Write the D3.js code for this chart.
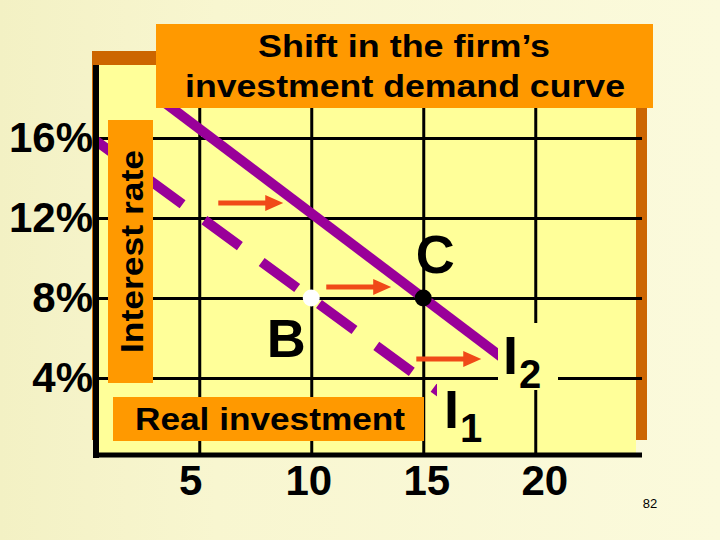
<!DOCTYPE html>
<html>
<head>
<meta charset="utf-8">
<script src="https://cdn.jsdelivr.net/npm/d3@7"></script>
<style>
  html, body { margin: 0; padding: 0; background: #f8f6d0; }
  svg { display: block; }
</style>
</head>
<body>
<svg id="chart" width="720" height="540"></svg>
<script>
// chart values
const rateTicks = [4, 8, 12, 16]
const investTicks = [5, 10, 15, 20]
// I1 (old curve, dashed) and I2 (shifted curve, solid): real investment q vs interest rate r
const curveI1 = [{ q: 0.4, r: 15.85 }, { q: 17, r: 2.25 }]
const curveI2 = [{ q: 3.3, r: 17.9 }, { q: 19.5, r: 4.2 }]
// the three shift arrows
const shifts = [
	{ r: 12.75, from: 5.85, to: 8.75 },
	{ r: 8.55, from: 10.67, to: 13.57 },
	{ r: 4.95, from: 14.69, to: 17.59 }
]
const points = [
	{ name: 'B', q: 10, r: 8 },
	{ name: 'C', q: 15, r: 8 }
]

const FONT = 'Arial, "Liberation Sans", sans-serif'
const PURPLE = '#990099'
const ORANGE = '#ff9900'
const PLOT_BG = '#ffff99'

const svg = d3.select('#chart')

const x = d3.scaleLinear().domain([0, 20]).range([87.25, 535.25])
const y = d3.scaleLinear().domain([0, 16]).range([458, 138])

// frame of the plot
const plot = { left: 96, top: 65, right: 637, bottom: 455 }

// page background
const grad = svg.append('defs').append('linearGradient')
	.attr('id', 'bg').attr('x1', 0).attr('x2', 1).attr('y1', 0).attr('y2', 0)
grad.append('stop').attr('offset', 0).attr('stop-color', '#f3f1c4')
grad.append('stop').attr('offset', 0.3).attr('stop-color', '#f8f6d0')
grad.append('stop').attr('offset', 1).attr('stop-color', '#fbfadc')
svg.append('rect').attr('width', 720).attr('height', 540).attr('fill', 'url(#bg)')

// brown shadow behind the plot
svg.append('rect')
	.attr('x', plot.left - 4).attr('y', plot.top - 14)
	.attr('width', plot.right + 10 - (plot.left - 4)).attr('height', 440 - (plot.top - 14))
	.attr('fill', '#cc6600')

svg.append('rect')
	.attr('x', plot.left + 3).attr('y', plot.top)
	.attr('width', plot.right - plot.left - 4).attr('height', plot.bottom - plot.top - 2)
	.attr('fill', PLOT_BG)

// grid + tick labels
const gx = svg.append('g')
	.attr('transform', `translate(0,${plot.bottom})`)
	.call(d3.axisBottom(x).tickValues(investTicks).tickSize(-(plot.bottom - plot.top)).tickPadding(10))
const gy = svg.append('g')
	.attr('transform', `translate(${plot.left},0)`)
	.call(d3.axisLeft(y).tickValues(rateTicks).tickFormat(d => d + '%')
		.tickSize(-(plot.right + 5 - plot.left)).tickPadding(3))

for (const g of [gx, gy]) {
	g.select('.domain').remove()
	g.selectAll('.tick line').attr('stroke', '#000').attr('stroke-width', 3)
	g.selectAll('.tick text')
		.attr('fill', '#000')
		.style('font-family', FONT)
		.style('font-size', '42px')
		.style('font-weight', 'bold')
}
// labels under the x axis sit a bit wider apart than the ticks
gx.selectAll('.tick text').attr('dx', d => (d - 12.5) * 1.2)

const line = d3.line().x(d => x(d.q)).y(d => y(d.r))

// old curve I1, dashed
svg.append('path')
	.datum(curveI1)
	.attr('d', line)
	.attr('fill', 'none')
	.attr('stroke', PURPLE)
	.attr('stroke-width', 10)
	.attr('stroke-dasharray', '44 27')
	.attr('stroke-dashoffset', 8)

// new curve I2
svg.append('path')
	.datum(curveI2)
	.attr('d', line)
	.attr('fill', 'none')
	.attr('stroke', PURPLE)
	.attr('stroke-width', 10)

// shift arrows
const arrows = svg.append('g').attr('fill', '#f04a18').attr('stroke', 'none')
shifts.forEach(s => {
	const x0 = x(s.from), x1 = x(s.to), yy = y(s.r)
	const head = 18
	arrows.append('rect')
		.attr('x', x0).attr('y', yy - 2.5)
		.attr('width', x1 - head - x0 + 1).attr('height', 5)
	arrows.append('path')
		.attr('d', `M ${x1 - head} ${yy - 8} L ${x1} ${yy} L ${x1 - head} ${yy + 8} Z`)
})

// equilibrium points
svg.selectAll('.pt')
	.data(points)
	.enter()
	.append('circle')
	.attr('class', 'pt')
	.attr('cx', d => x(d.q))
	.attr('cy', d => y(d.r))
	.attr('r', 8.5)
	.attr('fill', d => d.name === 'B' ? '#ffffff' : '#000000')

// boxes sitting over the curves
svg.append('rect') // behind I2 label
	.attr('x', 498).attr('y', 323).attr('width', 60).attr('height', 67)
	.attr('fill', PLOT_BG)
svg.append('rect') // behind I1 label
	.attr('x', 437).attr('y', 383).attr('width', 60).attr('height', 64)
	.attr('fill', PLOT_BG)
svg.append('rect') // y title
	.attr('x', 108).attr('y', 120).attr('width', 45).attr('height', 263)
	.attr('fill', ORANGE)
svg.append('rect') // x title
	.attr('x', 113).attr('y', 397).attr('width', 311).attr('height', 44)
	.attr('fill', ORANGE)
svg.append('rect') // chart title
	.attr('x', 156).attr('y', 24).attr('width', 497).attr('height', 84)
	.attr('fill', ORANGE)

// thick axis lines
svg.append('line')
	.attr('x1', plot.left).attr('x2', plot.left)
	.attr('y1', plot.top).attr('y2', 458)
	.attr('stroke', '#000').attr('stroke-width', 6)
svg.append('line')
	.attr('x1', plot.left - 3).attr('x2', 642)
	.attr('y1', plot.bottom).attr('y2', plot.bottom)
	.attr('stroke', '#000').attr('stroke-width', 5)

// texts (the slide text is a little wider than plain Arial)
const txt = (sx, sy, s, size, len) => {
	const t = svg.append('text')
		.attr('x', sx).attr('y', sy)
		.attr('text-anchor', 'middle')
		.attr('fill', '#000')
		.style('font-family', FONT)
		.style('font-size', size + 'px')
		.style('font-weight', 'bold')
		.text(s)
	if (len) t.attr('textLength', len).attr('lengthAdjust', 'spacingAndGlyphs')
	return t
}

txt(404, 57, 'Shift in the firm\u2019s', 32, 292)
txt(405, 97, 'investment demand curve', 32, 440)
txt(270, 430, 'Real investment', 32, 270)

svg.append('text')
	.attr('transform', 'translate(143,251.5) rotate(-90)')
	.attr('text-anchor', 'middle')
	.attr('textLength', 203)
	.attr('lengthAdjust', 'spacingAndGlyphs')
	.style('font-family', FONT)
	.style('font-size', '32px')
	.style('font-weight', 'bold')
	.text('Interest rate')

// point labels
txt(x(10) - 25, y(8) + 59, 'B', 54)
txt(x(15) + 12, y(8) - 25, 'C', 54)

// curve labels with subscripts
const curveLabel = (lx, ly, sub) => {
	const t = svg.append('text')
		.attr('x', lx).attr('y', ly)
		.style('font-family', FONT)
		.style('font-weight', 'bold')
		.style('font-size', '54px')
	t.append('tspan').text('I')
	t.append('tspan').attr('dy', 14).attr('dx', 1).style('font-size', '40px').text(sub)
}
curveLabel(x(18.74) - 4, y(4.2), '2')
curveLabel(x(16.1) - 4, y(1.5), '1')

// page number
svg.append('text')
	.attr('x', 650).attr('y', 508)
	.attr('text-anchor', 'middle')
	.style('font-family', FONT)
	.style('font-size', '13px')
	.text('82')
</script>
</body>
</html>
